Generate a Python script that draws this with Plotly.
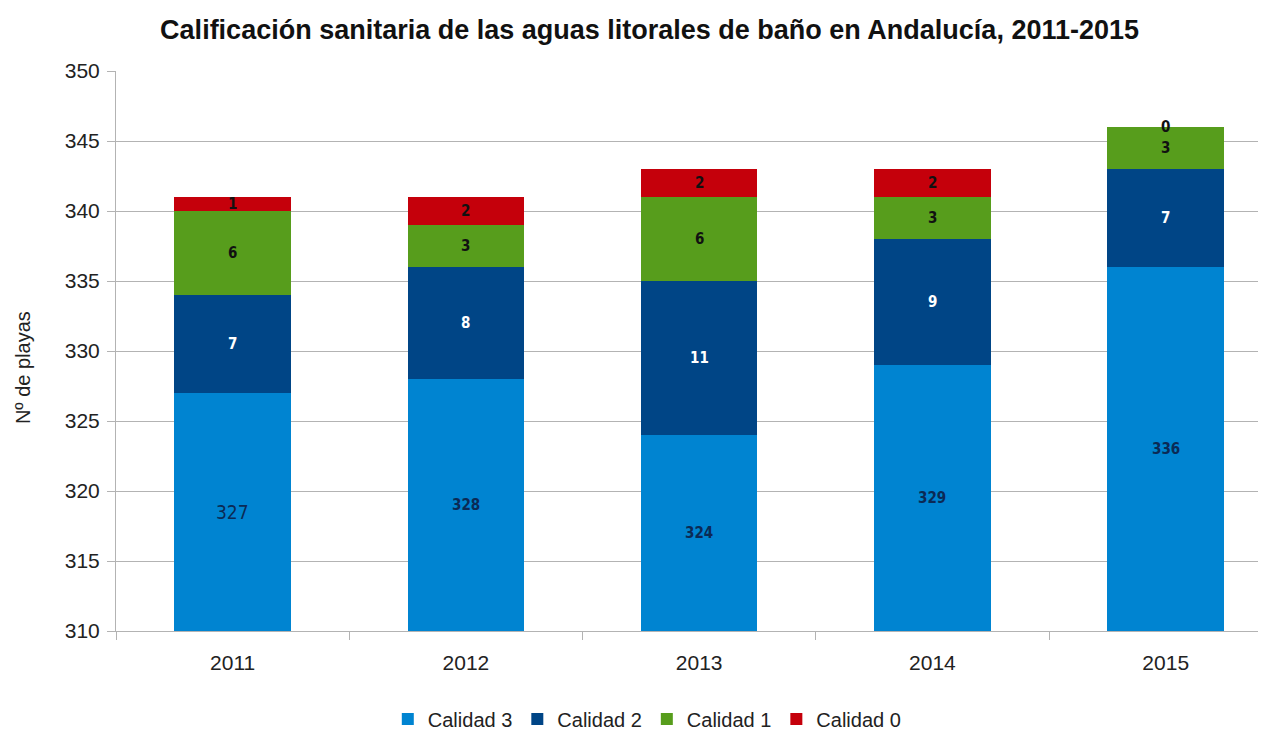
import plotly.graph_objects as go

years = ["2011", "2012", "2013", "2014", "2015"]
calidad3 = [327, 328, 324, 329, 336]
calidad2 = [7, 8, 11, 9, 7]
calidad1 = [6, 3, 6, 3, 3]
calidad0 = [1, 2, 2, 2, 0]

y_min, y_max = 310, 350

series = [
    ("Calidad 3", calidad3, "#0084d1"),
    ("Calidad 2", calidad2, "#004586"),
    ("Calidad 1", calidad1, "#579d1c"),
    ("Calidad 0", calidad0, "#c5000b"),
]
label_colors = {"Calidad 3": "#0b2a55", "Calidad 2": "white",
                "Calidad 1": "#111111", "Calidad 0": "#111111"}

fig = go.Figure()
cum = [0] * len(years)
annotations = []
for name, vals, color in series:
    fig.add_trace(go.Bar(
        x=years, y=vals, name=name,
        marker=dict(color=color, line=dict(width=0)),
        width=0.5, hoverinfo="x+y+name",
    ))
    for i, v in enumerate(vals):
        lo = max(cum[i], y_min)
        hi = cum[i] + v
        mid = (lo + hi) / 2
        if name == "Calidad 3" and i == 0:
            f = dict(family="DejaVu Sans Condensed", size=19, color=label_colors[name])
        else:
            f = dict(family="DejaVu Sans Condensed, sans-serif", size=15,
                     color=label_colors[name], weight="bold")
        annotations.append(dict(x=i, y=mid, xref="x", yref="y", text=str(v),
                                showarrow=False, font=f, xanchor="center",
                                yanchor="middle"))
        cum[i] = hi

annotations.append(dict(text="Nº de playas", xref="paper", yref="paper",
                        x=-0.081, y=0.471, textangle=-90, showarrow=False,
                        xanchor="center", yanchor="middle", borderpad=0,
                        font=dict(size=20, color="#222222")))

fig.update_layout(
    barmode="stack",
    width=1258, height=725,
    margin=dict(l=108, r=0, t=63, b=102, autoexpand=False),
    paper_bgcolor="white", plot_bgcolor="white",
    font=dict(family="Liberation Sans, Arial, sans-serif", color="#222222"),
    title=dict(text="<b>Calificación sanitaria de las aguas litorales de baño en Andalucía, 2011-2015</b>",
               x=0.510, xanchor="center", y=0.970, yanchor="middle",
               font=dict(size=27, color="#111111")),
    showlegend=True,
    legend=dict(orientation="h", x=0.462, xanchor="center", y=-0.157, yanchor="middle",
                font=dict(size=20, color="#222222"), traceorder="normal",
                itemwidth=30),
    annotations=annotations,
)
fig.update_yaxes(
    range=[y_min, y_max], dtick=5, tick0=310, automargin=False,
    showgrid=True, gridcolor="#b3b3b3", gridwidth=1,
    showline=True, linecolor="#b3b3b3", linewidth=1,
    ticks="outside", ticklen=8, tickcolor="#b3b3b3",
    tickfont=dict(size=21, color="#222222"), ticklabelstandoff=3,
    zeroline=False,
)
fig.update_xaxes(
    type="category", automargin=False,
    range=[-0.5, 4.43],
    showline=True, linecolor="#b3b3b3", linewidth=1,
    ticks="outside", tickson="boundaries", ticklen=8, tickcolor="#b3b3b3",
    tickfont=dict(size=21, color="#222222"), ticklabelstandoff=13,
    showgrid=False,
)

fig.write_html("out.html")
